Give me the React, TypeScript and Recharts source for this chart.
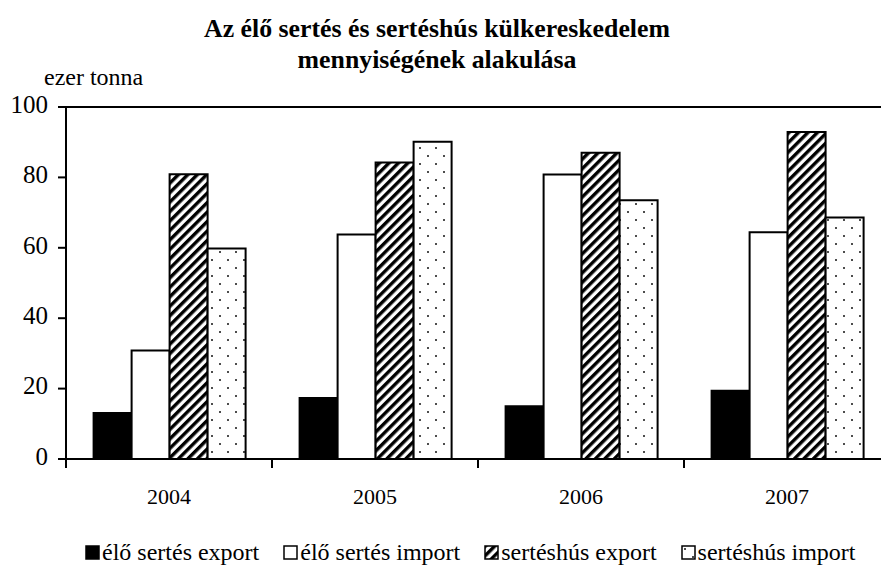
import { BarChart, Bar, XAxis, YAxis, Legend, ReferenceLine } from "recharts";

const years = ["2004", "2005", "2006", "2007"];
const eloExport = [13.1, 17.3, 15.0, 19.4];
const eloImport = [30.8, 63.8, 80.8, 64.4];
const husExport = [80.9, 84.2, 87.0, 92.9];
const husImport = [59.8, 90.1, 73.5, 68.6];
const yTicks = [0, 20, 40, 60, 80, 100];

const series = [
  { key: "eloExport", name: "élő sertés export", fill: "#000000" },
  { key: "eloImport", name: "élő sertés import", fill: "#ffffff" },
  { key: "husExport", name: "sertéshús export", fill: "url(#hatch)" },
  { key: "husImport", name: "sertéshús import", fill: "url(#dots)" },
];

const data = years.map((year, i) => ({
  year,
  eloExport: eloExport[i],
  eloImport: eloImport[i],
  husExport: husExport[i],
  husImport: husImport[i],
}));

const FONT = '"Liberation Serif", "Times New Roman", serif';

// year label plus the small tick at the left edge of each category
// eslint-disable-next-line @typescript-eslint/no-explicit-any
function YearTick({ x, y, payload }: any) {
  const half = payload?.offset ?? 0;
  return (
    <g>
      <line x1={x - half} x2={x - half} y1={y} y2={y + 9} stroke="#000" strokeWidth={2} />
      <text x={x} y={y + 40} textAnchor="middle" dominantBaseline="middle" fontSize={22} fontFamily={FONT} fill="#000">
        {payload.value}
      </text>
    </g>
  );
}

// eslint-disable-next-line @typescript-eslint/no-explicit-any
function ValueTick({ x, y, payload }: any) {
  return (
    <text x={x} y={y} textAnchor="end" dominantBaseline="middle" fontSize={25} fontFamily={FONT} fill="#000">
      {payload.value}
    </text>
  );
}

function LegendBox() {
  return (
    <div
      style={{
        height: 30,
        display: "flex",
        alignItems: "center",
        paddingLeft: 85,
        fontFamily: FONT,
        fontSize: 24,
        color: "#000",
        whiteSpace: "nowrap",
      }}
    >
      {series.map((s) => (
        <span key={s.key} style={{ display: "flex", alignItems: "center", marginRight: 24 }}>
          <svg width={15} height={15}>
            <rect x={1} y={1} width={13} height={13} fill={s.fill} stroke="#000" strokeWidth={1.5} />
          </svg>
          <span style={{ marginLeft: 2 }}>{s.name}</span>
        </span>
      ))}
    </div>
  );
}

export default function App() {
  return (
    <div
      style={{
        position: "absolute",
        left: 0,
        top: 0,
        width: 881,
        height: 575,
        overflow: "hidden",
        background: "#fff",
      }}
    >
      <div
        style={{
          position: "absolute",
          left: 0,
          top: 13,
          width: 874,
          textAlign: "center",
          fontFamily: FONT,
          fontWeight: "bold",
          fontSize: 25.8,
          lineHeight: "31px",
          color: "#000",
        }}
      >
        Az élő sertés és sertéshús külkereskedelem
        <br />
        mennyiségének alakulása
      </div>
      <div
        style={{
          position: "absolute",
          left: 44,
          top: 64,
          fontFamily: FONT,
          fontSize: 24,
          color: "#000",
        }}
      >
        ezer tonna
      </div>
      <BarChart
        width={890}
        height={575}
        data={data}
        margin={{ top: 107, right: 0, bottom: 8, left: 0 }}
        barCategoryGap="13.4%"
        barGap={0}
      >
        <defs>
          <pattern id="hatch" patternUnits="userSpaceOnUse" width={6.7} height={6.7} patternTransform="rotate(45)">
            <rect width={6.7} height={6.7} fill="#fff" />
            <line x1={1.7} y1={0} x2={1.7} y2={6.7} stroke="#000" strokeWidth={3.4} />
          </pattern>
          <pattern id="dots" patternUnits="userSpaceOnUse" width={16} height={16}>
            <rect width={16} height={16} fill="#fff" />
            <circle cx={4} cy={4} r={1} fill="#111" />
            <circle cx={12} cy={12} r={1} fill="#111" />
          </pattern>
        </defs>
        <XAxis
          dataKey="year"
          height={78}
          tickSize={0}
          tickMargin={0}
          tick={<YearTick />}
          axisLine={{ stroke: "#000", strokeWidth: 2 }}
          interval={0}
        />
        <YAxis
          width={66}
          domain={[0, 100]}
          ticks={yTicks}
          tickSize={8}
          tickMargin={10}
          axisLine={{ stroke: "#000", strokeWidth: 2 }}
          tickLine={{ stroke: "#000", strokeWidth: 2 }}
          tick={<ValueTick />}
        />
        <ReferenceLine y={100} stroke="#000" strokeWidth={2} />
        <Legend verticalAlign="bottom" content={<LegendBox />} />
        {series.map((s) => (
          <Bar
            key={s.key}
            dataKey={s.key}
            name={s.name}
            fill={s.fill}
            stroke="#000"
            strokeWidth={2}
            isAnimationActive={false}
          />
        ))}
      </BarChart>
    </div>
  );
}
